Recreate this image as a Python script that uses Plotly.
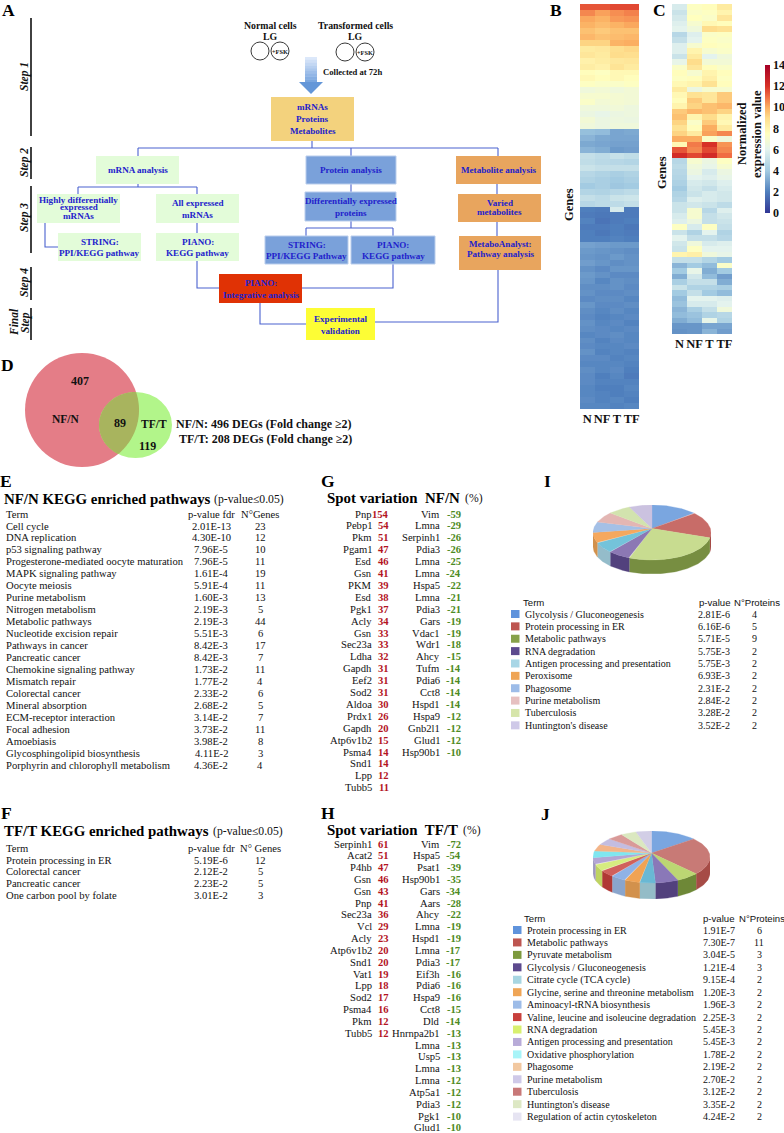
import numpy as np
import plotly.graph_objects as go

SERIF = "Liberation Serif"
SANS = "Liberation Sans"

# ---------- heatmap data ----------
conds = ["N", "NF", "T", "TF"]
b_N = [11.4,10.6,10.1,9.9,9.6,9.8,9.2,8.4,8.6,8.1,8.3,7.6,7.8,7.4,6.6,7.0,7.2,6.6,6.4,6.8,6.6,3.7,3.4,3.1,3.4,5.0,4.9,5.2,4.6,4.4,4.0,4.5,5.0,4.6,2.0,1.9,2.1,1.9,2.0,2.0,2.9,2.7,2.6,2.8,2.5,2.7,2.6,2.4,2.5,2.3,2.6,2.4,2.3,2.5,2.4,2.2,2.4,2.3,2.5,2.3,2.2,2.4,2.3,2.3,2.2,2.2,2.3,2.2]
b_NF = [11.4,10.2,9.9,9.7,9.4,9.6,9.2,8.5,8.4,8.3,8.1,7.4,7.6,7.2,6.8,7.0,6.8,6.6,6.2,6.4,6.4,3.6,3.1,3.0,3.2,4.8,4.7,5.0,4.4,4.2,4.2,4.4,4.8,4.8,1.9,1.8,1.7,1.9,1.8,2.0,2.8,2.6,2.5,2.6,2.3,2.5,2.2,2.4,2.3,2.4,2.3,2.2,2.1,2.2,2.3,2.3,2.1,2.2,2.1,2.3,2.2,2.2,2.0,2.1,2.0,2.1,2.1,2.2]
b_T = [11.6,10.5,10.3,9.9,9.6,9.7,9.9,8.9,9.0,8.5,8.7,7.8,7.8,7.2,6.6,6.9,6.9,6.7,6.4,6.5,6.6,3.0,3.0,2.9,2.7,5.1,4.6,5.0,4.2,4.0,3.9,4.6,5.2,4.8,5.6,1.9,1.9,2.0,2.0,2.1,2.7,2.5,2.7,2.4,2.6,2.3,2.5,2.5,2.3,2.4,2.3,2.4,2.2,2.3,2.2,2.4,2.3,2.2,2.2,2.1,2.2,2.3,2.2,2.1,2.0,2.0,2.2,2.1]
b_TF = [11.6,10.7,10.4,10.1,9.6,9.8,10.0,9.1,8.9,8.6,8.4,7.8,7.6,7.4,6.8,6.8,6.8,6.5,6.5,6.4,6.6,3.1,3.0,2.9,2.8,4.9,4.5,5.0,4.4,4.2,4.0,4.8,5.3,5.0,1.9,1.9,2.0,1.8,1.9,2.0,2.7,2.4,2.5,2.5,2.6,2.3,2.4,2.3,2.4,2.2,2.4,2.2,2.3,2.1,2.3,2.2,2.2,2.3,2.1,2.2,2.1,2.0,1.9,2.1,2.2,2.1,2.0,2.2]
c_N = [5.6,5.2,5.5,5.8,6.0,4.6,5.0,5.8,5.8,5.2,6.2,7.2,7.6,7.4,7.8,8.4,7.8,7.6,8.0,9.4,9.6,9.2,8.8,9.2,10.0,7.8,11.4,12.2,
       4.6,4.8,4.6,4.5,4.3,4.0,4.4,4.6,5.2,5.2,5.6,5.8,7.4,5.2,6.0,5.4,5.2,8.0,5.0,3.4,4.0,3.2,4.2,5.2,4.0,3.6,3.8,3.4,3.6,3.2,2.6,2.5]
c_NF = [7.4,7.2,7.5,7.0,6.6,5.8,6.0,7.0,8.0,8.4,9.0,8.6,7.0,7.6,8.0,6.4,8.8,9.4,9.2,9.8,8.0,7.2,7.6,8.4,10.0,10.8,10.6,11.6,
        7.0,6.6,6.4,6.0,5.6,5.4,5.2,5.8,5.4,7.0,7.0,6.4,5.6,4.4,5.0,6.6,7.4,8.2,5.0,4.0,6.2,5.4,5.0,4.4,5.0,6.0,5.6,4.2,3.8,3.6,2.6,2.6]
c_T = [7.6,7.4,7.2,7.8,9.0,7.2,7.4,7.6,7.0,6.0,6.8,7.6,8.0,8.2,8.8,7.0,8.6,8.6,9.6,9.6,9.0,9.4,10.0,10.2,7.2,12.0,11.6,12.2,
       6.4,6.2,5.6,5.8,5.4,5.0,5.6,5.6,5.2,4.6,5.0,5.0,7.4,6.0,5.0,5.6,6.0,6.6,4.5,3.6,3.2,3.6,5.0,4.4,4.0,6.0,5.6,5.0,4.4,6.2,3.0,3.4]
c_TF = [8.4,8.0,8.6,7.6,8.8,7.4,7.2,7.4,7.2,6.6,6.8,7.2,7.6,7.4,7.6,7.0,9.4,9.4,9.8,9.2,8.0,7.8,8.4,10.6,6.6,10.4,10.6,11.0,
        7.4,7.0,6.4,6.2,5.8,5.6,5.4,5.4,4.8,5.8,5.4,5.2,5.0,4.4,4.6,5.8,6.0,6.2,4.0,7.2,4.0,2.8,3.2,4.2,3.6,5.8,6.0,6.6,4.6,4.4,3.0,2.8]

# ---------- tables ----------
e_terms = ["Cell cycle","DNA replication","p53 signaling pathway","Progesterone-mediated oocyte maturation","MAPK signaling pathway","Oocyte meiosis","Purine metabolism","Nitrogen metabolism","Metabolic pathways","Nucleotide excision repair","Pathways in cancer","Pancreatic cancer","Chemokine signaling pathway","Mismatch repair","Colorectal cancer","Mineral absorption","ECM-receptor interaction","Focal adhesion","Amoebiasis","Glycosphingolipid biosynthesis","Porphyrin and chlorophyll metabolism"]
e_p = ["2.01E-13","4.30E-10","7.96E-5","7.96E-5","1.61E-4","5.91E-4","1.60E-3","2.19E-3","2.19E-3","5.51E-3","8.42E-3","8.42E-3","1.73E-2","1.77E-2","2.33E-2","2.68E-2","3.14E-2","3.73E-2","3.98E-2","4.11E-2","4.36E-2"]
e_n = [23,12,10,11,19,11,13,5,44,6,17,7,11,4,6,5,7,11,8,3,4]
f_terms = ["Protein processing in ER","Colorectal cancer","Pancreatic cancer","One carbon pool by folate"]
f_p = ["5.19E-6","2.12E-2","2.23E-2","3.01E-2"]
f_n = [12,5,5,3]
g_up_names = ["Pnp","Pebp1","Pkm","Pgam1","Esd","Gsn","PKM","Esd","Pgk1","Acly","Gsn","Sec23a","Ldha","Gapdh","Eef2","Sod2","Aldoa","Prdx1","Gapdh","Atp6v1b2","Psma4","Snd1","Lpp","Tubb5"]
g_up_vals = [154,54,51,47,46,41,39,38,37,34,33,33,32,31,31,31,30,26,20,15,14,14,12,11]
g_dn_names = ["Vim","Lmna","Serpinh1","Pdia3","Lmna","Lmna","Hspa5","Lmna","Pdia3","Gars","Vdac1","Wdr1","Ahcy","Tufm","Pdia6","Cct8","Hspd1","Hspa9","Gnb2l1","Glud1","Hsp90b1"]
g_dn_vals = [-59,-29,-26,-26,-25,-24,-22,-21,-21,-19,-19,-18,-15,-14,-14,-14,-14,-12,-12,-12,-10]
h_up_names = ["Serpinh1","Acat2","P4hb","Gsn","Gsn","Pnp","Sec23a","Vcl","Acly","Atp6v1b2","Snd1","Vat1","Lpp","Sod2","Psma4","Pkm","Tubb5"]
h_up_vals = [61,51,47,46,43,41,36,29,23,20,20,19,18,17,16,12,12]
h_dn_names = ["Vim","Hspa5","Psat1","Hsp90b1","Gars","Aars","Ahcy","Lmna","Hspd1","Lmna","Pdia3","Eif3h","Pdia6","Hspa9","Cct8","Dld","Hnrnpa2b1","Lmna","Usp5","Lmna","Lmna","Atp5a1","Pdia3","Pgk1","Glud1"]
h_dn_vals = [-72,-54,-39,-35,-34,-28,-22,-19,-19,-17,-17,-16,-16,-16,-15,-14,-13,-13,-13,-13,-12,-12,-12,-10,-10]
i_terms = ["Glycolysis / Gluconeogenesis","Protein processing in ER","Metabolic pathways","RNA degradation","Antigen processing and presentation","Peroxisome","Phagosome","Purine metabolism","Tuberculosis","Huntington's disease"]
i_p = ["2.81E-6","6.16E-6","5.71E-5","5.75E-3","5.75E-3","6.93E-3","2.31E-2","2.84E-2","3.28E-2","3.52E-2"]
i_n = [4,5,9,2,2,2,2,2,2,2]
i_colors = ["#5f93dc","#bd5550","#87a14a","#5d4a8e","#a8d6e6","#efa556","#9dbce8","#e6c0c0","#d6e5aa","#cfc9e8"]
i_top = ["#7aa6e0","#c86c68","#c8dc90","#8c78b4","#74c3da","#f5a85e","#a4c0e6","#e3b6b3","#d2e3ae","#cbc2e0"]
j_terms = ["Protein processing in ER","Metabolic pathways","Pyruvate metabolism","Glycolysis / Gluconeogenesis","Citrate cycle (TCA cycle)","Glycine, serine and threonine metabolism","Aminoacyl-tRNA biosynthesis","Valine, leucine and isoleucine degradation","RNA degradation","Antigen processing and presentation","Oxidative phosphorylation","Phagosome","Purine metabolism","Tuberculosis","Huntington's disease","Regulation of actin cytoskeleton"]
j_p = ["1.91E-7","7.30E-7","3.04E-5","1.21E-4","9.15E-4","1.20E-3","1.96E-3","2.25E-3","5.45E-3","5.45E-3","1.78E-2","2.19E-2","2.70E-2","3.12E-2","3.35E-2","4.24E-2"]
j_n = [6,11,3,3,2,2,2,2,2,2,2,2,2,2,2,2]
j_colors = ["#5f93dc","#bd5550","#7d9a3e","#5d4a8e","#a8d6e2","#efa556","#9dbce8","#c8403c","#d8f070","#b8abd8","#a8f4f8","#f2c8a0","#cfc9e8","#c87878","#dde8c4","#e6e4f2"]
j_top = ["#7aa6e0","#c87a76","#bcd673","#8a78b8","#69b8d4","#f0a354","#8fb2e6","#d0605c","#d6ec80","#b3a5d4","#7fe6f0","#f3b488","#c3bde0","#d99a98","#dbe8c0","#d2cee6"]

venn_text = [("407",80,381,12),("NF/N",66,419,11.5),("89",120,423,12),("TF/T",154,424,11.5),("119",147,446,12)]

# ---------- figure helpers ----------
shapes, ann = [], []

def T(x, y, s, size=10.6, color="#111", bold=False, italic=False, anchor="left", family=SERIF, angle=0):
    if bold: s = f"<b>{s}</b>"
    if italic: s = f"<i>{s}</i>"
    ann.append(dict(x=x, y=y, xref="x", yref="y", text=s, showarrow=False, xanchor=anchor, yanchor="middle",
                    font=dict(family=family, size=size, color=color), textangle=angle, borderpad=0, borderwidth=0))

def rect(x0, y0, x1, y1, fill, line=None):
    shapes.append(dict(type="rect", x0=x0, y0=y0, x1=x1, y1=y1, xref="x", yref="y", fillcolor=fill,
                       line=dict(color=line or fill, width=1 if line else 0), layer="below"))

def seg(pts, color="#4a62cf", width=1.1):
    path = "M " + " L ".join(f"{x},{y}" for x, y in pts)
    shapes.append(dict(type="path", path=path, xref="x", yref="y", line=dict(color=color, width=width), layer="below"))

def mix(c, t, a):
    c = [int(c[i:i+2], 16) for i in (1, 3, 5)]
    return "#%02x%02x%02x" % tuple(int(round(v*(1-a)+t*a)) for v in c)

# ---------- panel A ----------
for p in [(138,148,498,148),(312,141,312,148),(138,148,138,156),(351,148,351,156),(498,148,498,156),
          (138,184,138,187),(78,187,197,187),(78,187,78,194),(197,187,197,194),(197,223,197,233),
          (351,184,351,192),(351,221,351,228),(306,228,393,228),(306,228,306,236),(393,228,393,236),
          (497,184,497,194),(497,222,497,236)]:
    seg([(p[0],p[1]),(p[2],p[3])])
seg([(45,223),(45,247),(58,247)])
seg([(197,261),(197,288),(219,288)])
seg([(393,264),(393,288),(302,288)])
seg([(498,270),(498,322),(375,322)])
seg([(260,303),(260,324),(306,324)])

GREEN, BLUE, ORANGE = "#e3fcd9", "#7aa1da", "#e8a55e"
boxes = [
 (271,97,354,141,"#f3d27d",None,[("mRNAs",107),("Proteins",119),("Metabolites",131)]),
 (96,156,179,184,GREEN,None,[("mRNA analysis",170)]),
 (306,156,396,184,BLUE,"#b9cdec",[("Protein analysis",170)]),
 (456,156,541,184,ORANGE,None,[("Metabolite analysis",170)]),
 (37,194,120,223,GREEN,None,[("Highly differentially",200),("expressed",206.5),("mRNAs",216)]),
 (156,194,239,223,GREEN,None,[("All expressed",203),("mRNAs",215)]),
 (58,233,141,261,GREEN,None,[("STRING:",242),("PPI/KEGG pathway",253)]),
 (156,233,239,261,GREEN,None,[("PIANO:",242),("KEGG pathway",253)]),
 (305,192,396,221,BLUE,"#b9cdec",[("Differentially expressed",201),("proteins",213)]),
 (265,236,348,264,BLUE,"#b9cdec",[("STRING:",245),("PPI/KEGG Pathway",256)]),
 (351,236,435,264,BLUE,"#b9cdec",[("PIANO:",245),("KEGG pathway",256)]),
 (458,194,541,222,ORANGE,None,[("Varied",203),("metabolites",212)]),
 (459,236,541,270,ORANGE,None,[("MetaboAnalyst:",244),("Pathway analysis",253.5)]),
 (219,274,302,303,"#e03205",None,[("PIANO:",283),("Integrative analysis",295)]),
 (306,308,375,340,"#fdfd35",None,[("Experimental",319),("validation",331)]),
]
for x0,y0,x1,y1,c,l,lines in boxes:
    rect(x0,y0,x1,y1,c,l)
    for s,y in lines:
        T((x0+x1)/2,y,s,size=9.1,color="#2222cc",bold=True,anchor="center")

T(270,25,"Normal cells",9.8,bold=True,anchor="center"); T(270,36,"LG",9.8,bold=True,anchor="center")
T(355,25,"Transformed cells",9.8,bold=True,anchor="center"); T(355,36,"LG",9.8,bold=True,anchor="center")
for cx,cy,txt in [(260,51,None),(280,51,"+FSK"),(345,52,None),(365,52,"+FSK")]:
    shapes.append(dict(type="circle",x0=cx-9,x1=cx+9,y0=cy-9,y1=cy+9,xref="x",yref="y",line=dict(color="#222",width=0.9)))
    if txt: T(cx,cy,txt,6.3,bold=True,anchor="center")
T(323,72,"Collected at 72h",8.6,bold=True)

for k in range(9):
    y0 = 57+k*25/9
    a = k/9
    c = "#%02x%02x%02x" % (int(220+(110-220)*a), int(232+(158-232)*a), int(250+(220-250)*a))
    rect(305,y0,317,y0+25/9+0.3,c)
shapes.append(dict(type="path",path="M 299,82 L 323,82 L 311,94 Z",xref="x",yref="y",fillcolor="#6396d8",line=dict(width=0),layer="below"))

for y0,y1 in [(18,136),(147,179),(186,253),(267,300),(308,340)]:
    seg([(31,y0),(31,y1)],"#111",1.6)
for y,s in [(77,"Step 1"),(163,"Step 2"),(218,"Step 3"),(283,"Step 4")]:
    T(24,y,s,11.5,bold=True,italic=True,anchor="center",angle=-90)
T(14,322,"Final",11.5,bold=True,italic=True,anchor="center",angle=-90)
T(25,323,"Step",11.5,bold=True,italic=True,anchor="center",angle=-90)

for s,x,y in [("A",8,10),("B",556,10),("C",659,10),("D",7,365),("E",6,481),("F",6,813),("G",328,481),("H",328,813),("I",547,481),("J",545,814)]:
    T(x,y,s,17.5,color="#000",bold=True,anchor="center")

# ---------- panel D ----------
big = (82,410,57,57); small = (135.5,425,36.5,33)
for (cx,cy,rx,ry),c in [(big,"#e47d87"),(small,"#b2f58a")]:
    shapes.append(dict(type="circle",x0=cx-rx,x1=cx+rx,y0=cy-ry,y1=cy+ry,xref="x",yref="y",fillcolor=c,line=dict(width=0),layer="below"))
t = np.linspace(0,2*np.pi,361)
def inside(px,py,e):
    return ((px-e[0])/e[2])**2+((py-e[1])/e[3])**2 <= 1
bx,by = big[0]+big[2]*np.cos(t), big[1]+big[3]*np.sin(t)
sx,sy = small[0]+small[2]*np.cos(t), small[1]+small[3]*np.sin(t)
m1, m2 = inside(bx,by,small), inside(sx,sy,big)
px = np.r_[bx[m1],sx[m2]]; py = np.r_[by[m1],sy[m2]]
o = np.argsort(np.arctan2(py-py.mean(),px-px.mean()))
shapes.append(dict(type="path",path="M "+" L ".join(f"{a:.1f},{b:.1f}" for a,b in zip(px[o],py[o]))+" Z",
                   xref="x",yref="y",fillcolor="#a8b45e",line=dict(width=0),layer="below"))
for s,x,y,z in venn_text:
    T(x,y,s,z,bold=True,anchor="center")
T(352,424,"NF/N: 496 DEGs (Fold change ≥2)",12,bold=True,anchor="right")
T(352,439,"TF/T: 208 DEGs (Fold change ≥2)",12,bold=True,anchor="right")

# ---------- panels E, F ----------
def kegg(title, xsub, ytitle, yhead, y0, terms, pv, nn, nlabel):
    T(4,ytitle,title,14.9,color="#000",bold=True)
    T(xsub,ytitle+0.5,"(p-value≤0.05)",11.7)
    T(6,yhead,"Term"); T(211,yhead,"p-value fdr",anchor="center"); T(260,yhead,nlabel,anchor="center")
    for i,(a,b,c) in enumerate(zip(terms,pv,nn)):
        y = y0+i*11.95
        T(6,y,a); T(211,y,b,anchor="center"); T(260,y,str(c),anchor="center")
kegg("NF/N KEGG enriched pathways",214,499,514,526,e_terms,e_p,e_n,"N°Genes")
kegg("TF/T KEGG enriched pathways",213,831,848,860,f_terms,f_p,f_n,"N° Genes")

# ---------- panels G, H ----------
def spot(title, ytitle, xpct, y0, dy, un, uv, dn, dv):
    T(327,ytitle,title,14.9,color="#000",bold=True)
    T(xpct,ytitle+0.5,"(%)",11.7)
    for names,vals,xn,xv,col in [(un,uv,372,389,"#b3141f"),(dn,dv,440,461,"#4c8a22")]:
        for i,(a,b) in enumerate(zip(names,vals)):
            y = y0+i*dy
            T(xn,y,a,anchor="right"); T(xv,y,str(b),bold=True,color=col,anchor="right")
spot("Spot variation  NF/N",498,465,514,11.9,g_up_names,g_up_vals,g_dn_names,g_dn_vals)
spot("Spot variation  TF/T",830,463,844,11.83,h_up_names,h_up_vals,h_dn_names,h_dn_vals)

# ---------- panels I, J legends ----------
def legend(yh,xterm,xp,xnp,y0,dy,xs,xname,xpv,xcnt,terms,pv,nn,cols):
    T(xterm,yh,"Term",9.6,family=SANS); T(xp,yh,"p-value",9.6,family=SANS,anchor="center"); T(xnp,yh,"N°Proteins",9.6,family=SANS,anchor="center")
    for i,(a,b,c,col) in enumerate(zip(terms,pv,nn,cols)):
        y = y0+i*dy
        rect(xs,y-4,xs+8.5,y+4,col)
        T(xname,y,a,10); T(xpv,y,b,10,anchor="center"); T(xcnt,y,str(c),10,anchor="center")
legend(602,523,714,757,614,12.37,511,525,714,754,i_terms,i_p,i_n,i_colors)
legend(918,524,718,762,930,12.44,513,527,719,759,j_terms,j_p,j_n,j_colors)

# ---------- traces ----------
traces = [go.Scatter(x=[0,784],y=[0,1133],mode="markers",marker=dict(opacity=0,size=1),hoverinfo="skip",showlegend=False,xaxis="x",yaxis="y")]

scale_stops = [(0,"#313695"),(2,"#4f7fbd"),(4,"#a3cbe2"),(6,"#e4f3ee"),(7.5,"#ffffbf"),(9,"#fedd8c"),(10,"#fbae61"),(11,"#f06d43"),(12,"#d73027"),(14,"#a50026")]
colorscale = [[v/14,c] for v,c in scale_stops]

for z_cols,xa,ya in [((b_N,b_NF,b_T,b_TF),"x2","y2"),((c_N,c_NF,c_T,c_TF),"x3","y3")]:
    z = np.array(z_cols).T
    traces.append(go.Heatmap(z=z,x=conds,y=list(range(z.shape[0])),coloraxis="coloraxis",xaxis=xa,yaxis=ya,hoverinfo="skip"))

HUB = 0.15  # the tilted pie's hub sits above the ellipse centre
def pie(vals, cols, tops, xa, ya, depth):
    vals = np.array(vals,float)
    edges = np.r_[0,np.cumsum(vals)]/vals.sum()*2*np.pi
    out = []
    for a0,a1,c in zip(edges[:-1],edges[1:],cols):
        th = np.pi/2-np.linspace(a0,a1,60)
        keep = np.sin(th) <= 0
        if keep.sum() > 1:
            xx,yy = np.cos(th[keep]),np.sin(th[keep])
            side = mix(c,0,0.12)
            out.append(go.Scatter(x=np.r_[xx,xx[::-1]],y=np.r_[yy,yy[::-1]-depth],mode="lines",fill="toself",fillcolor=side,
                                  line=dict(width=0.3,color=side),xaxis=xa,yaxis=ya,hoverinfo="skip",showlegend=False))
    for a0,a1,top in zip(edges[:-1],edges[1:],tops):
        th = np.pi/2-np.linspace(a0,a1,60)
        out.append(go.Scatter(x=np.r_[0,np.cos(th),0],y=np.r_[HUB,np.sin(th),HUB],mode="lines",fill="toself",fillcolor=top,
                              line=dict(width=0.3,color=top),xaxis=xa,yaxis=ya,hoverinfo="skip",showlegend=False))
    return out

DEPTH_I = 14/27.5
DEPTH_J = 16/26
traces += pie(i_n,i_colors,i_top,"x4","y4",DEPTH_I)
traces += pie(j_n,j_colors,j_top,"x5","y5",DEPTH_J)

W,H = 784,1133
def dx(a,b): return [a/W,b/W]
def dy(top,bot): return [1-bot/H,1-top/H]
hid = dict(visible=False,fixedrange=True)
hm_x = dict(type="category",showgrid=False,zeroline=False,showline=False,ticks="",tickmode="array",tickvals=conds,ticktext=conds,
            tickangle=0,tickfont=dict(family=SERIF,size=12.5,color="#111",weight=700),fixedrange=True)
hm_y = dict(visible=False,autorange="reversed",fixedrange=True)

fig = go.Figure(traces)
fig.update_layout(
    width=W,height=H,autosize=False,margin=dict(l=0,r=0,t=0,b=0),paper_bgcolor="white",plot_bgcolor="rgba(0,0,0,0)",showlegend=False,
    xaxis=dict(domain=[0,1],range=[0,W],**hid),
    yaxis=dict(domain=[0,1],range=[H,0],**hid),
    xaxis2=dict(domain=dx(580,639),anchor="y2",**hm_x),
    yaxis2=dict(domain=dy(4,409),anchor="x2",**hm_y),
    xaxis3=dict(domain=dx(672,732),anchor="y3",**hm_x),
    yaxis3=dict(domain=dy(4,334),anchor="x3",**hm_y),
    xaxis4=dict(domain=dx(593,711),range=[-1,1],anchor="y4",**hid),
    yaxis4=dict(domain=dy(505,574),range=[-1-DEPTH_I,1],anchor="x4",**hid),
    xaxis5=dict(domain=dx(593,710),range=[-1,1],anchor="y5",**hid),
    yaxis5=dict(domain=dy(831,899),range=[-1-DEPTH_J,1],anchor="x5",**hid),
    coloraxis=dict(cmin=0,cmax=14,colorscale=colorscale,colorbar=dict(
        x=765/W,xanchor="left",y=1-65/H,yanchor="top",thickness=5,thicknessmode="pixels",len=148/H,lenmode="fraction",
        outlinewidth=0,xpad=0,ypad=0,ticks="",ticklen=0,tick0=0,dtick=2,
        tickfont=dict(family=SERIF,size=12,color="#111",weight=700))),
    shapes=shapes,
)
T_extra = [(569,205,"Genes",12.5),(662,173,"Genes",12.5),(742,134,"Normalized",12.5),(757,134,"expression value",12.5)]
extra = []
for x,y,s,z in T_extra:
    extra.append(dict(x=x,y=y,xref="x",yref="y",text=f"<b>{s}</b>",showarrow=False,textangle=-90,xanchor="center",yanchor="middle",
                      font=dict(family=SERIF,size=z,color="#111")))
fig.update_layout(annotations=ann+extra)
fig.write_html("out.html",config=dict(displayModeBar=False),
               post_script="document.documentElement.style.margin='0';document.body.style.margin='0';document.body.style.overflow='hidden';")
